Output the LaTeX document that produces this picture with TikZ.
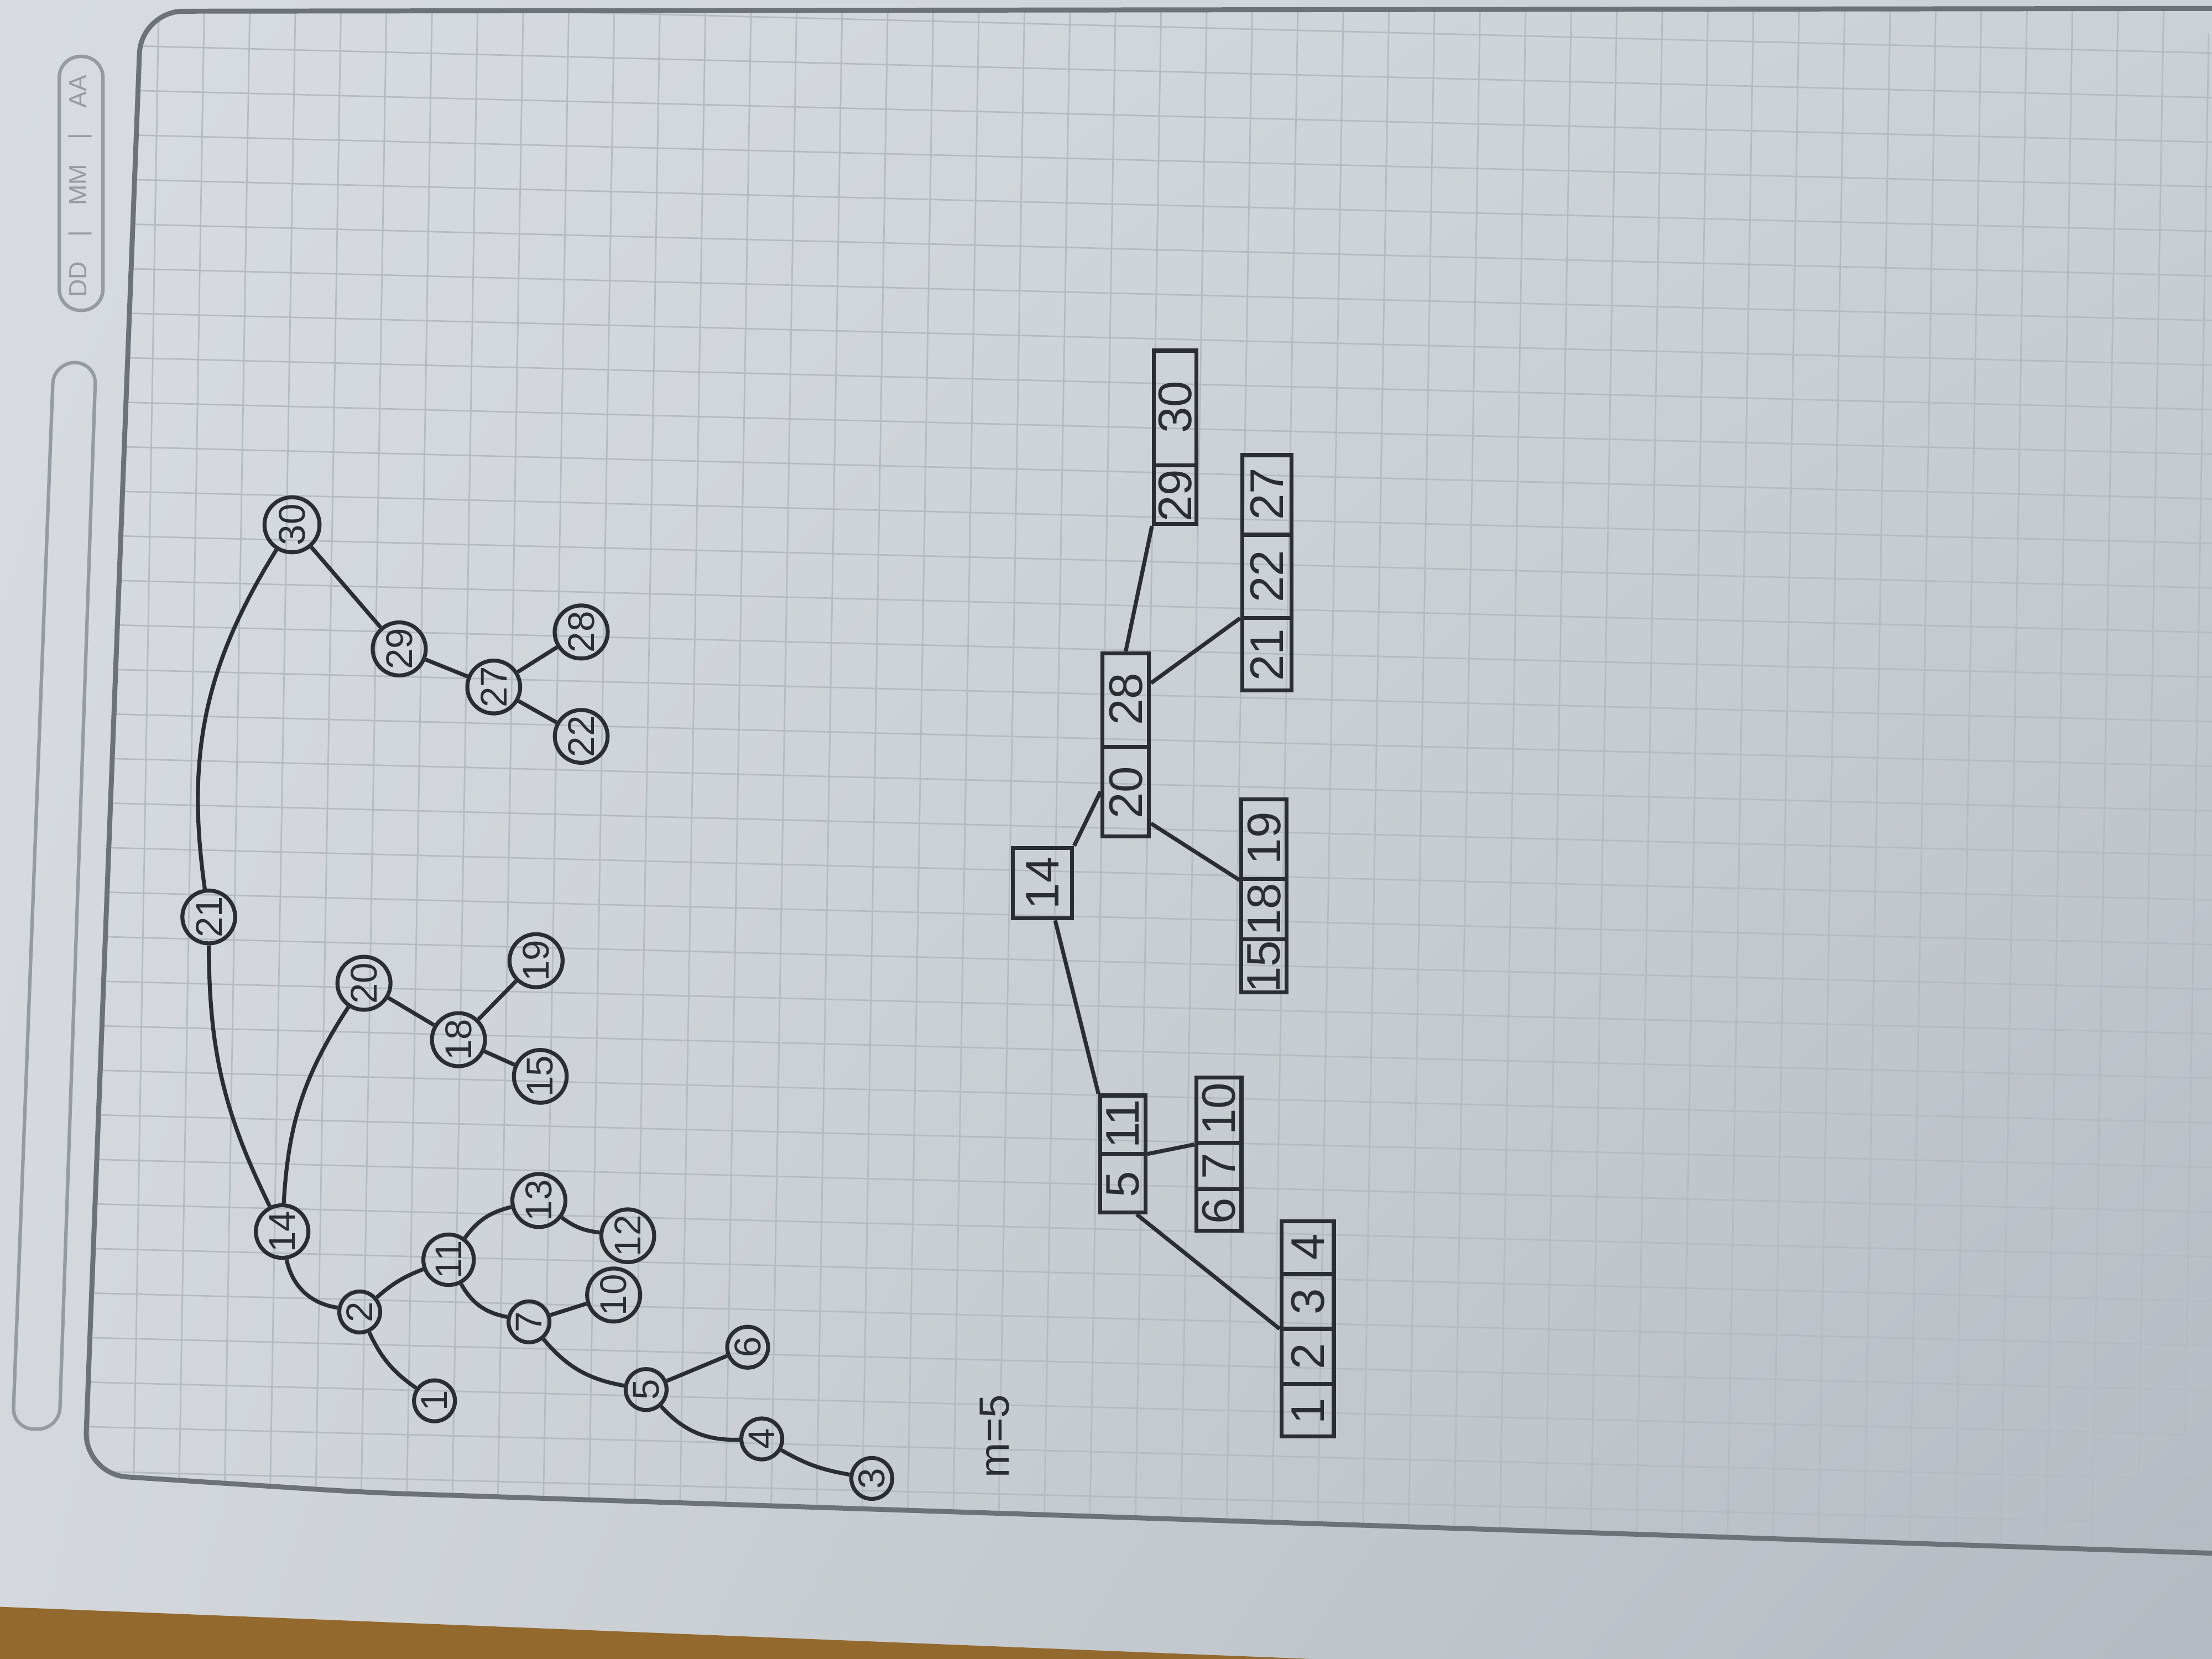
\documentclass[tikz,border=0pt]{standalone}
\usepackage{fontspec}
\setmainfont{Liberation Sans}
\usetikzlibrary{calc}
\usetikzlibrary{positioning}
\usetikzlibrary{shapes.multipart, shadings}

\definecolor{inkgray}{HTML}{2A2D31}
\definecolor{paperA}{HTML}{D8DCE0}
\definecolor{paperB}{HTML}{CBD1D6}
\definecolor{paperC}{HTML}{D4D8DC}
\definecolor{paperD}{HTML}{B3BAC1}
\definecolor{tablebrown}{HTML}{94692E}
\definecolor{bordergray}{HTML}{6C7277}
\definecolor{headergray}{HTML}{959BA0}
\definecolor{gridgray}{HTML}{B4BBC1}

\newcommand{\cellkey}[2]{\makebox[#1]{#2}}

\tikzset{
    edge/.style={draw=inkgray, line width=0.8pt},
    bstnode/.style={circle, draw=inkgray, line width=0.8pt, inner sep=0.3pt,
        minimum size=0.29cm, rotate=90, text=inkgray,
        font=\fontsize{7.5}{7.5}\selectfont},
    btnode/.style={rectangle split, rectangle split horizontal, rectangle split parts=#1,
        draw=inkgray, line width=0.8pt, inner sep=0pt, rotate=90, text=inkgray,
        font=\fontsize{9.5}{10}\selectfont},
    gridline/.style={draw=gridgray, line width=0.3pt},
}

\begin{document}
\begin{tikzpicture}[x=0.01cm, y=0.01cm]
        \useasboundingbox (0,0) rectangle (1568,-1176);

        % Paper and desk
        \shade[upper left=paperA, upper right=paperB, lower left=paperC, lower right=paperD]
            (0,0) rectangle (1568,-1176);
        \fill[tablebrown] (0,-1139) -- (930,-1176) -- (0,-1176) -- cycle;

        % Grid of the page
        \begin{scope}
            \clip[rounded corners=0.3cm] (1568,-6) -- (100,-8) -- (60,-1045) -- (260,-1058) -- (930,-1080) -- (1568,-1101) -- cycle;
            \foreach \gx in {0,...,48} {
                \draw[gridline] ({15.7+32.3*\gx},0) -- ({15.7+32.3*\gx-20},-1176);
            }
            \foreach \gy in {0,...,37} {
                \draw[gridline] (0,{1.4-31.6*\gy}) -- (1568,{1.4-31.6*\gy-39});
            }
        \end{scope}

        % Page border and header
        \draw[bordergray, line width=1pt, rounded corners=0.3cm]
            (1568,-6) -- (100,-8) -- (60,-1045) -- (260,-1058) -- (930,-1080) -- (1568,-1101);
        \draw[headergray, line width=0.7pt, rounded corners=0.15cm] (42,-40) rectangle (73,-220);
        \node[rotate=90, text=headergray, font=\fontsize{5}{5}\selectfont] (date) at (57,-132)
            {DD\hspace{5pt}|\hspace{5pt}MM\hspace{5pt}|\hspace{5pt}AA};
        \draw[headergray, line width=0.7pt, rounded corners=0.15cm]
            (38,-257) -- (68,-257) -- (42,-1013) -- (9,-1013) -- cycle;

        % Binary search tree
        \node[bstnode, minimum size=0.33cm] (t21) at (148,-650) {21};
        \node[bstnode, minimum size=0.39cm] (t30) at (207,-372) {30};
        \node[bstnode] (t14) at (200,-873) {14};
        \node[bstnode] (t20) at (258,-697) {20};
        \node[bstnode] (t18) at (325,-737) {18};
        \node[bstnode] (t15) at (383,-763) {15};
        \node[bstnode] (t19) at (380,-681) {19};
        \node[bstnode] (t2) at (255,-930) {2};
        \node[bstnode] (t1) at (308,-993) {1};
        \node[bstnode] (t11) at (318,-893) {11};
        \node[bstnode] (t13) at (382,-851) {13};
        \node[bstnode] (t12) at (445,-876) {12};
        \node[bstnode] (t7) at (375,-937) {7};
        \node[bstnode] (t10) at (435,-918) {10};
        \node[bstnode] (t5) at (458,-985) {5};
        \node[bstnode] (t6) at (530,-955) {6};
        \node[bstnode] (t4) at (540,-1020) {4};
        \node[bstnode] (t3) at (618,-1048) {3};
        \node[bstnode] (t29) at (283,-460) {29};
        \node[bstnode] (t27) at (350,-487) {27};
        \node[bstnode] (t28) at (412,-448) {28};
        \node[bstnode] (t22) at (412,-522) {22};

        \draw[edge] (t21) to[bend right=13] (t14);
        \draw[edge] (t21) to[bend left=20] (t30);
        \draw[edge] (t14) to[bend left=15] (t20);
        \draw[edge] (t14) to[bend right=35] (t2);
        \draw[edge] (t2) to[bend right=15] (t1);
        \draw[edge] (t2) to[bend left=10] (t11);
        \draw[edge] (t11) to[bend left=20] (t13);
        \draw[edge] (t13) to[bend right=15] (t12);
        \draw[edge] (t11) to[bend right=25] (t7);
        \draw[edge] (t7) -- (t10);
        \draw[edge] (t7) to[bend right=20] (t5);
        \draw[edge] (t5) -- (t6);
        \draw[edge] (t5) to[bend right=25] (t4);
        \draw[edge] (t4) to[bend right=10] (t3);
        \draw[edge] (t20) -- (t18);
        \draw[edge] (t18) -- (t15);
        \draw[edge] (t18) -- (t19);
        \draw[edge] (t30) -- (t29);
        \draw[edge] (t29) -- (t27);
        \draw[edge] (t27) -- (t28);
        \draw[edge] (t27) -- (t22);

        % B-tree
        \node[rotate=90, text=inkgray, font=\fontsize{8.5}{9}\selectfont] (order) at (705,-1018) {m=5};

        \node[btnode=1, minimum height=0.42cm] (b14) at (739,-626) {\cellkey{0.5cm}{14}};
        \node[btnode=2, minimum height=0.32cm] (b511) at (796,-818)
            {\cellkey{0.4cm}{5}\nodepart{two}\cellkey{0.4cm}{11}};
        \node[btnode=2, minimum height=0.33cm] (b2028) at (798,-528)
            {\cellkey{0.62cm}{20}\nodepart{two}\cellkey{0.65cm}{28}};
        \node[btnode=3, minimum height=0.32cm] (b6710) at (864,-818)
            {\cellkey{0.28cm}{6}\nodepart{two}\cellkey{0.3cm}{7}\nodepart{three}\cellkey{0.45cm}{10}};
        \node[btnode=4, minimum height=0.37cm] (b1234) at (927,-942)
            {\cellkey{0.36cm}{1}\nodepart{two}\cellkey{0.36cm}{2}\nodepart{three}\cellkey{0.36cm}{3}\nodepart{four}\cellkey{0.36cm}{4}};
        \node[btnode=3, minimum height=0.32cm] (b151819) at (896,-635)
            {\cellkey{0.36cm}{15}\nodepart{two}\cellkey{0.4cm}{18}\nodepart{three}\cellkey{0.55cm}{19}};
        \node[btnode=3, minimum height=0.35cm] (b212227) at (898,-406)
            {\cellkey{0.5cm}{21}\nodepart{two}\cellkey{0.56cm}{22}\nodepart{three}\cellkey{0.55cm}{27}};
        \node[btnode=2, minimum height=0.3cm] (b2930) at (833,-310)
            {\cellkey{0.4cm}{29}\nodepart{two}\cellkey{0.8cm}{30}};

        \draw[edge] ($(b14.north west)!0.7!(b14.south west)$) -- (b511.north east);
        \draw[edge] (b14.south east) -- ($(b2028.north west)!0.25!(b2028.north east)$);
        \draw[edge] (b511.south) -- ($(b6710.north west)!0.56!(b6710.north east)$);
        \draw[edge] ($(b511.north west)!0.78!(b511.south west)$) -- (b1234.north);
        \draw[edge] ($(b2028.south west)!0.08!(b2028.south east)$) -- ($(b151819.north west)!0.58!(b151819.north east)$);
        \draw[edge] ($(b2028.south west)!0.83!(b2028.south east)$) -- ($(b212227.north west)!0.31!(b212227.north east)$);
        \draw[edge] (b2028.east) -- (b2930.north west);
    \end{tikzpicture}
\end{document}
